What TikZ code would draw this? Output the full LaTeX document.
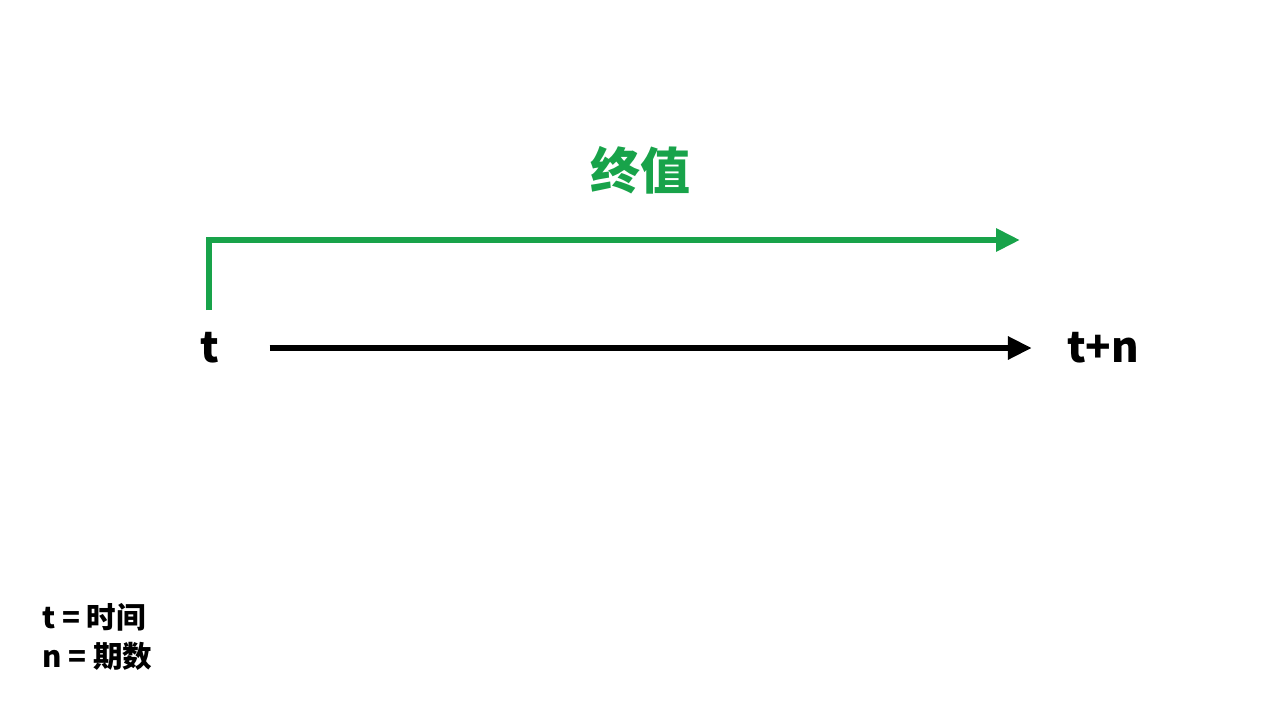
\documentclass[tikz,border=0pt]{standalone}
\usepackage{fontspec}
\setmainfont{Noto Sans CJK SC}
\usetikzlibrary{arrows.meta}
\definecolor{fvgreen}{RGB}{24,163,74}
\tikzset{timeline/.style={line width=6.5pt,-{Triangle[length=24pt,width=22pt]}}}
\tikzset{lbl/.style={font=\bfseries\fontsize{42}{42}\selectfont,inner sep=0pt}}
\tikzset{legend/.style={font=\bfseries\fontsize{29.5}{31}\selectfont,inner sep=0pt,anchor=west}}

\begin{document}
\begin{tikzpicture}[x=1pt,y=-1pt]
      \useasboundingbox (0,0) rectangle (1280,720);
      \pgfmathsetmacro{\axisy}{348}
      \pgfmathsetmacro{\fvy}{240}
      \node[lbl] at (210,\axisy) (t) {t};
      \node[lbl] at (1103,\axisy) (tn) {t+n};
      \draw[timeline] (t.east) -- (tn.west) [shorten <=50pt,shorten >=35pt];

      \coordinate (fvstart) at (209,310);
      \coordinate (fvend) at (1020,\fvy);
      \draw[timeline,fvgreen,line join=miter] (fvstart) |- (fvend);
      \node[lbl,text=fvgreen,font=\bfseries\fontsize{50}{50}\selectfont] at (640,170) (fv) {终值};

      \node[legend] at (42,617) (lt) {t = 时间};
      \node[legend] at (42,656) (ln) {n = 期数};
    \end{tikzpicture}
\end{document}
